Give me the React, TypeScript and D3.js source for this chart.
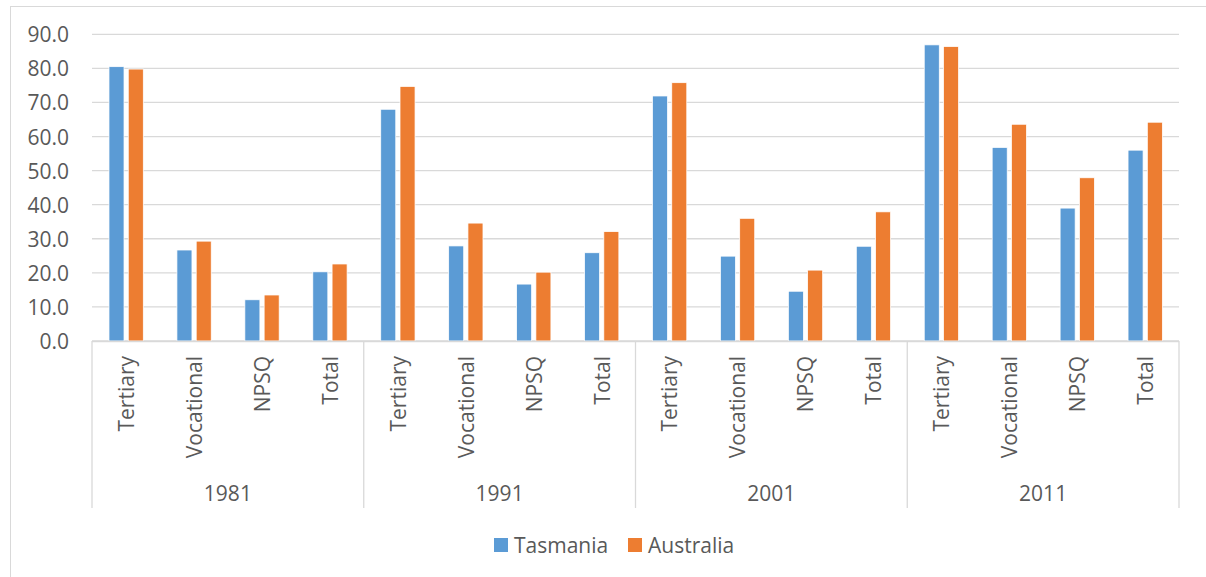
import React from "react";
import * as d3 from "d3";

const years = ["1981", "1991", "2001", "2011"];
const qualifications = ["Tertiary", "Vocational", "NPSQ", "Total"];
const seriesNames = ["Tasmania", "Australia"];
const seriesColors = ["#5B9BD5", "#ED7D31"];
// values in year order, qualification order within each year
const tasmania = [80.5, 26.7, 12.1, 20.3, 68.0, 27.9, 16.7, 25.9, 71.9, 24.9, 14.6, 27.8, 86.9, 56.8, 39.0, 56.0];
const australia = [79.8, 29.3, 13.5, 22.6, 74.7, 34.6, 20.2, 32.1, 75.8, 36.0, 20.8, 37.9, 86.4, 63.6, 47.9, 64.2];
const yTicks = [0, 10, 20, 30, 40, 50, 60, 70, 80, 90];

const W = 1206;
const H = 577;
const FONT = "'Open Sans', 'Noto Sans', sans-serif";
const FS = 21;
const TEXT = "#595959";
const GRID = "#d9d9d9";

export default function App() {
  const left = 92;
  const right = 1179;
  const top = 34.3;
  const bottom = 341;

  const cats = years.flatMap((y) => qualifications.map((q) => `${y}|${q}`));
  const x0 = d3.scaleBand<string>().domain(cats).range([left, right]).padding(0);
  const bw = x0.bandwidth();
  const x1 = d3
    .scaleBand<string>()
    .domain(seriesNames)
    .range([bw * 0.25, bw * 0.755])
    .paddingInner(0.22);
  const y = d3.scaleLinear().domain([0, 90]).range([bottom, top]);
  const values = [tasmania, australia];

  const groupW = bw * qualifications.length;

  return (
    <svg
      width={W}
      height={H}
      style={{ position: "absolute", left: 0, top: 0, display: "block", background: "#fff" }}
      fontFamily={FONT}
    >
      {/* chart frame */}
      <rect x={10.5} y={6.5} width={W + 10} height={H + 10} fill="#fff" stroke={GRID} strokeWidth={1} />

      {/* gridlines */}
      {yTicks.map((t) => (
        <line key={`g${t}`} x1={left} x2={right} y1={y(t)} y2={y(t)} stroke={GRID} strokeWidth={1.3} />
      ))}

      {/* y tick labels */}
      {yTicks.map((t) => (
        <text
          key={`yl${t}`}
          x={69}
          y={y(t)}
          textAnchor="end"
          dominantBaseline="central"
          fontSize={FS}
          fill={TEXT}
        >
          {t.toFixed(1)}
        </text>
      ))}

      {/* bars */}
      {cats.map((c, i) =>
        seriesNames.map((s, si) => {
          const v = values[si][i];
          return (
            <rect
              key={`${c}-${s}`}
              x={(x0(c) as number) + (x1(s) as number)}
              y={y(v)}
              width={x1.bandwidth()}
              height={bottom - y(v)}
              fill={seriesColors[si]}
              stroke="#fff"
              strokeWidth={0.75}
            />
          );
        })
      )}

      {/* category axis line */}
      <line x1={left} x2={right} y1={bottom + 0.5} y2={bottom + 0.5} stroke={GRID} strokeWidth={1.3} />

      {/* group separators */}
      {d3.range(years.length + 1).map((k) => {
        const xx = left + k * groupW;
        return <line key={`sep${k}`} x1={xx} x2={xx} y1={bottom} y2={508} stroke={GRID} strokeWidth={1.3} />;
      })}

      {/* qualification labels */}
      {cats.map((c) => {
        const cx = (x0(c) as number) + bw / 2;
        const q = c.split("|")[1];
        return (
          <text
            key={`ql${c}`}
            transform={`translate(${cx},${356}) rotate(-90)`}
            textAnchor="end"
            dominantBaseline="central"
            fontSize={FS}
            fill={TEXT}
          >
            {q}
          </text>
        );
      })}

      {/* year labels */}
      {years.map((yr, k) => (
        <text
          key={`yr${yr}`}
          x={left + k * groupW + groupW / 2}
          y={500.5}
          textAnchor="middle"
          fontSize={FS}
          fill={TEXT}
        >
          {yr}
        </text>
      ))}

      {/* legend */}
      {seriesNames.map((s, si) => {
        const lx = si === 0 ? 494 : 628;
        return (
          <g key={`lg${s}`}>
            <rect x={lx} y={538} width={14} height={14} fill={seriesColors[si]} />
            <text x={lx + 20} y={552.5} fontSize={FS} fill={TEXT}>
              {s}
            </text>
          </g>
        );
      })}
    </svg>
  );
}
